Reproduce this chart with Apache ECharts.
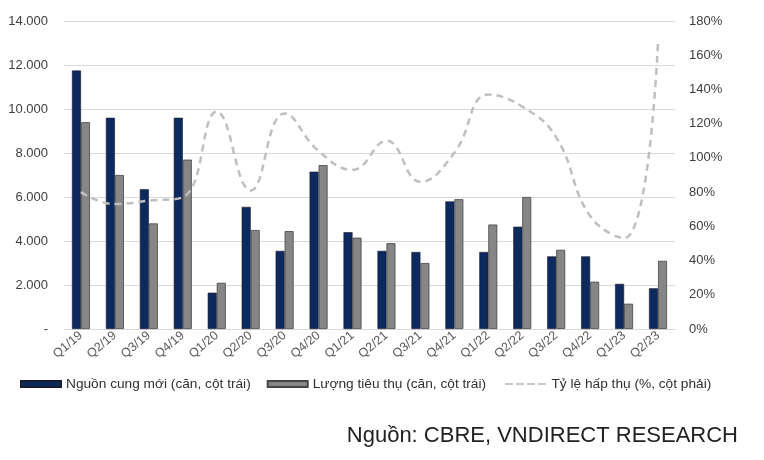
<!DOCTYPE html>
<html><head><meta charset="utf-8">
<script src="https://cdn.jsdelivr.net/npm/echarts@6/dist/echarts.min.js"></script>
<style>html,body{margin:0;padding:0;background:#fff}#c{width:764px;height:460px}</style>
</head><body><div id="c"></div>
<script>
const categories = ['Q1/19','Q2/19','Q3/19','Q4/19','Q1/20','Q2/20','Q3/20','Q4/20','Q1/21','Q2/21','Q3/21','Q4/21','Q1/22','Q2/22','Q3/22','Q4/22','Q1/23','Q2/23'];
const newSupply = [11750,9600,6350,9600,1650,5550,3550,7150,4400,3550,3500,5800,3500,4650,3300,3300,2050,1850];
const absorbed = [9400,7000,4800,7700,2100,4500,4450,7450,4150,3900,3000,5900,4750,6000,3600,2150,1150,3100];
const absorptionRate = [80,73,75,77,127,81,126,104,93,110,86,103,137,130,112,66,53,168];
const seriesNames = ['Nguồn cung mới (căn, cột trái)','Lượng tiêu thụ (căn, cột trái)','Tỷ lệ hấp thụ (%, cột phải)'];
const sourceText = 'Nguồn: CBRE, VNDIRECT RESEARCH';

const font = 'Liberation Sans, Arial, sans-serif';
const legendText = {fontSize:13.7,color:'#303030',fontFamily:font};
const chart = echarts.init(document.getElementById('c'));
chart.setOption({
  animation:false,
  backgroundColor:'#fff',
  textStyle:{fontFamily:font},
  grid:{left:64,right:89,top:21,bottom:131},
  legend:[
    {
      left:20, top:377, padding:0, itemWidth:40, itemHeight:6, itemGap:16,
      textStyle:legendText,
      data:[
        {name:seriesNames[0], icon:'rect'},
        {name:seriesNames[1], icon:'rect'}
      ]
    },
    {
      left:505, top:377, padding:0, itemWidth:42, itemHeight:2,
      textStyle:legendText,
      data:[
        {name:seriesNames[2], icon:'path://M0,0h8v2h-8z M11,0h8v2h-8z M22,0h8v2h-8z M33,0h8v2h-8z',
         itemStyle:{color:'#c8c8c8'}}
      ]
    }
  ],
  xAxis:{
    type:'category', data:categories,
    axisLine:{lineStyle:{color:'#d9d9d9'}},
    axisTick:{show:false},
    axisLabel:{rotate:40, fontSize:12.5, color:'#595959', margin:5, interval:0, fontFamily:font}
  },
  yAxis:[
    {type:'value', min:0, max:14000, interval:2000,
     axisLabel:{fontSize:13, color:'#404040', margin:16, fontFamily:font,
       formatter:v=> v===0 ? '-' : String(v).replace(/\B(?=(\d{3})+(?!\d))/g,'.')},
     splitLine:{lineStyle:{color:'#d9d9d9'}}, axisLine:{show:false}, axisTick:{show:false}},
    {type:'value', min:0, max:180, interval:20,
     axisLabel:{fontSize:13, color:'#404040', margin:14, fontFamily:font, formatter:'{value}%'},
     splitLine:{show:false}, axisLine:{show:false}, axisTick:{show:false}}
  ],
  series:[
    {name:seriesNames[0], type:'bar', data:newSupply, barWidth:9, barGap:'0%',
     itemStyle:{color:'#0d2a5e', borderColor:'#1a1a2e', borderWidth:0.6}},
    {name:seriesNames[1], type:'bar', data:absorbed, barWidth:9,
     itemStyle:{color:'#868686', borderColor:'#454545', borderWidth:0.8}},
    {name:seriesNames[2], type:'line', yAxisIndex:1, data:absorptionRate, smooth:0.45,
     symbol:'none', lineStyle:{color:'#bfbfbf', width:2.5, type:[7,5]},
     itemStyle:{color:'#c8c8c8'}}
  ],
  graphic:[
    {type:'text', right:26, top:425, style:{text:sourceText, font:'22px Liberation Sans, Arial, sans-serif', fill:'#222'}}
  ]
});
</script></body></html>
